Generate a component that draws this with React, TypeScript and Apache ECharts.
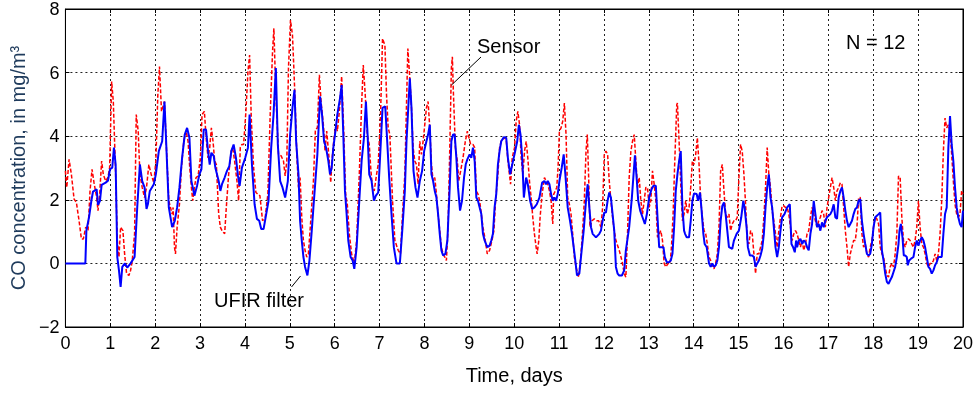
import React, { useEffect, useRef } from "react";
import * as echarts from "echarts";

const xTicks = { min: 0, max: 20, interval: 1 };
const yTicks = { min: -2, max: 8, interval: 2 };

const sensor: [number, number][] = [
  [0,2.91],[0.03,2.39],[0.081,3.27],[0.133,2.8],[0.193,2.02],[0.244,1.92],[0.304,1.34],[0.356,0.77],[0.4,0.77],[0.452,1.14],[0.504,1.03],[0.548,2.28],[0.593,2.96],[0.637,2.54],[0.696,2.07],[0.726,1.66],[0.763,2.18],[0.807,3.22],[0.844,2.8],[0.896,2.59],[0.948,2.7],[0.985,3.01],[1.03,5.72],[1.067,5.09],[1.119,2.8],[1.156,0.72],[1.193,0.2],[1.23,1.14],[1.281,1.03],[1.319,0.3],[1.363,-0.32],[1.415,-0.38],[1.452,-0.22],[1.489,0.09],[1.541,0.93],[1.578,4.68],[1.622,4.16],[1.659,2.8],[1.711,2.39],[1.763,2.07],[1.807,2.39],[1.859,3.11],[1.911,2.8],[1.97,2.54],[2.015,3.22],[2.059,5.3],[2.096,6.19],[2.141,4.78],[2.207,5.09],[2.244,3.84],[2.304,1.97],
  [2.378,1.55],[2.4,1.76],[2.43,0.51],[2.452,0.3],[2.489,1.14],[2.541,1.86],[2.585,3.01],[2.637,3.84],[2.689,4.16],[2.733,3.84],[2.77,3.01],[2.807,2.39],[2.837,1.97],[2.874,2.39],[2.911,2.7],[2.956,2.75],[3.007,3.32],[3.044,4.68],[3.096,4.78],[3.141,3.84],[3.178,3.32],[3.215,3.64],[3.252,4.26],[3.289,3.84],[3.326,3.22],[3.363,3.11],[3.415,1.55],[3.452,1.14],[3.489,1.03],[3.548,0.93],[3.585,1.76],[3.637,2.8],[3.696,3.53],[3.726,3.64],[3.77,3.22],[3.822,2.59],[3.859,1.97],[3.896,3.64],[3.933,3.74],[3.97,3.74],[4.022,4.78],[4.067,6.03],[4.104,6.55],[4.141,4.57],[4.193,3.01],[4.244,2.23],[4.289,2.18],[4.333,2.13],[4.393,1.34],[4.452,1.45],[4.511,2.18],[4.563,4.68],[4.615,6.66],[4.645,7.39],[4.689,5.3],[4.748,3.43],[4.807,3.38],[4.859,3.22],[4.896,2.75],[4.933,3.22],[4.97,6.14],[5.015,7.65],[5.059,7.18],
  [5.081,6.45],[5.119,5.09],[5.155,3.43],[5.193,2.39],[5.229,2.7],[5.266,1.45],[5.303,0.72],[5.34,0.41],[5.377,0.2],[5.414,0.3],[5.466,1.34],[5.526,2.59],[5.57,4.21],[5.614,4.26],[5.659,5.93],[5.696,5.09],[5.748,4.36],[5.785,3.53],[5.822,4.16],[5.874,3.32],[5.911,2.54],[5.948,3.38],[5.985,3.95],[6.03,4.36],[6.059,4.16],[6.104,4.78],[6.155,5.88],[6.192,4.57],[6.244,2.18],[6.281,1.86],[6.326,0.93],[6.377,0.3],[6.437,0],[6.489,0.72],[6.548,2.8],[6.6,4.99],[6.637,6.24],[6.681,5.3],[6.726,4.05],[6.77,3.74],[6.807,2.91],[6.844,2.39],[6.881,2.28],[6.933,2.8],[6.97,3.11],[7.022,4.68],[7.066,7.07],[7.119,6.86],[7.155,5.3],[7.192,4.26],[7.229,4.05],[7.289,1.97],[7.341,0.72],[7.415,0.41],[7.466,0.3],[7.511,1.55],[7.563,2.8],[7.63,6.76],
  [7.674,5.82],[7.711,4.89],[7.748,3.64],[7.785,3.22],[7.822,3.11],[7.859,2.49],[7.896,3.84],[7.933,3.43],[7.97,3.84],[8.007,4.36],[8.044,4.89],[8.081,5.09],[8.119,4.26],[8.156,3.11],[8.193,2.59],[8.23,2.7],[8.267,2.18],[8.304,1.55],[8.341,1.03],[8.378,0.51],[8.415,0.3],[8.452,0.2],[8.489,0.09],[8.526,1.14],[8.563,3.53],[8.6,6.14],[8.622,6.5],[8.644,5.41],[8.689,3.64],[8.733,3.22],[8.763,2.59],[8.807,2.91],[8.859,3.32],[8.911,3.84],[8.956,4.16],[8.993,3.95],[9.03,3.74],[9.081,3.74],[9.119,3.64],[9.156,2.28],[9.193,2.18],[9.23,1.97],[9.304,1.14],[9.356,0.72],[9.4,0.3],[9.452,0.41],[9.504,0.72],[9.548,1.03],[9.585,1.97],[9.637,2.8],[9.674,3.64],[9.711,3.84],[9.77,3.95],[9.822,3.9],[9.859,3.22],[9.919,2.49],[9.956,3.32],[10.007,3.64],[10.044,4.47],[10.081,4.78],[10.119,4.36],[10.156,3.32],[10.193,2.8],[10.23,3.53],[10.267,3.84],
  [10.303,3.32],[10.34,2.59],[10.377,2.07],[10.414,1.45],[10.451,0.93],[10.488,0.51],[10.511,0.3],[10.548,0.72],[10.577,1.45],[10.622,2.18],[10.674,2.7],[10.711,2.59],[10.748,2.49],[10.785,2.28],[10.822,1.97],[10.859,1.24],[10.881,2.18],[10.918,2.28],[10.948,2.39],[10.977,3.01],[11.007,4.16],[11.044,4.26],[11.081,4.47],[11.118,5.04],[11.155,4.05],[11.192,2.07],[11.229,1.86],[11.266,1.55],[11.303,0.93],[11.34,0.2],[11.377,-0.11],[11.437,-0.43],[11.488,0.3],[11.525,1.03],[11.562,1.97],[11.6,3.53],[11.629,4.05],[11.659,2.7],[11.688,1.14],[11.733,1.34],[11.785,1.4],[11.837,1.34],[11.881,1.34],[11.933,1.14],[11.97,1.76],[12.007,3.43],[12.044,3.53],[12.081,3.43],[12.118,2.59],[12.155,1.97],[12.192,1.45],[12.229,1.03],[12.266,0.72],[12.34,0.41],[12.4,0.09],[12.451,-0.32],[12.488,-0.43],[12.525,0.93],[12.562,2.7],[12.6,3.53],[12.636,3.84],[12.674,4.05],[12.711,3.22],[12.748,2.39],[12.785,2.7],
  [12.822,1.97],[12.859,1.55],[12.896,1.97],[12.933,2.39],[12.97,2.39],[13.007,1.76],[13.044,1.97],[13.081,2.91],[13.119,2.49],[13.156,1.97],[13.193,0.82],[13.23,0.93],[13.267,1.03],[13.304,0.72],[13.341,0],[13.378,-0.11],[13.43,0],[13.474,0],[13.504,0.51],[13.541,1.55],[13.578,3.22],[13.622,4.99],[13.637,5.04],[13.674,3.84],[13.711,2.49],[13.748,1.34],[13.785,1.55],[13.822,1.97],[13.859,1.55],[13.896,1.76],[13.933,2.39],[13.97,3.22],[14.007,3.11],[14.044,3.43],[14.081,3.95],[14.119,3.11],[14.156,1.97],[14.193,1.45],[14.23,1.03],[14.267,0.93],[14.304,0.61],[14.341,0.2],[14.378,0.09],[14.415,-0.11],[14.452,-0.17],[14.489,0],[14.526,0.3],[14.563,1.14],[14.6,2.91],[14.637,3.11],[14.674,2.28],[14.711,1.55],[14.748,1.45],[14.785,1.55],[14.822,1.03],[14.859,1.24],[14.896,1.34],[14.933,1.34],[14.97,1.45],[15.007,2.7],[15.044,3.74],[15.081,3.53],[15.119,2.8],[15.156,1.86],[15.193,0.72],[15.23,0.61],[15.267,1.03],[15.304,0.93],
  [15.341,0.3],[15.378,-0.32],[15.415,0.3],[15.452,0.3],[15.489,0.51],[15.526,0.72],[15.563,1.45],[15.6,2.39],[15.637,3.64],[15.674,2.8],[15.711,2.39],[15.748,1.66],[15.785,1.34],[15.822,0.93],[15.859,0.51],[15.896,1.03],[15.933,1.45],[15.97,1.81],[16.007,1.81],[16.045,1.76],[16.082,1.76],[16.119,1.55],[16.156,1.14],[16.193,0.72],[16.23,0.93],[16.267,1.03],[16.304,0.93],[16.341,0.72],[16.378,0.51],[16.415,0.72],[16.452,0.41],[16.489,0.61],[16.526,0.93],[16.563,1.03],[16.6,1.45],[16.637,1.76],[16.674,1.55],[16.711,1.34],[16.748,1.14],[16.785,1.34],[16.822,1.45],[16.859,1.66],[16.896,1.55],[16.933,1.14],[16.97,1.76],[17.007,2.07],[17.045,2.39],[17.082,2.7],[17.119,2.39],[17.156,1.97],[17.193,2.28],[17.23,2.39],[17.267,2.54],[17.304,2.49],[17.341,1.76],[17.378,1.03],[17.415,0.51],[17.452,-0.11],[17.489,0.3],[17.526,0.51],[17.563,0.72],[17.6,0.72],[17.637,1.14],[17.674,2.07],[17.711,2.07],
  [17.748,0.93],[17.785,0.51],[17.822,0.61],[17.859,0.3],[17.896,0.2],[17.933,0.51],[17.97,0.72],[18.007,1.14],[18.044,1.45],[18.081,1.4],[18.119,1.24],[18.156,0.51],[18.193,0.3],[18.23,0.2],[18.267,-0.11],[18.304,-0.38],[18.341,-0.43],[18.378,-0.11],[18.415,0],[18.452,-0.11],[18.489,0.3],[18.526,0.93],[18.563,2.75],[18.6,2.7],[18.637,1.45],[18.674,0.72],[18.711,0.51],[18.748,0.72],[18.785,0.77],[18.822,0.72],[18.859,0.61],[18.896,0.51],[18.933,0.72],[18.97,1.14],[19.007,1.97],[19.044,1.14],[19.082,0.61],[19.119,0.51],[19.156,0.3],[19.193,0],[19.23,-0.11],[19.267,0],[19.304,0],[19.341,0.09],[19.378,0.3],[19.415,0.09],[19.452,0.3],[19.489,0.93],[19.526,1.97],[19.563,3.53],[19.6,4.57],[19.637,4.26],[19.674,4.36],[19.711,4.16],[19.748,3.43],[19.785,2.59],[19.822,1.86],[19.859,1.55],[19.896,1.45],[19.933,1.55],[19.97,2.28],[20,2.18]
];

const ufir: [number, number][] = [
  [0,0],[0.444,0],[0.467,1.03],[0.526,1.45],[0.578,1.97],[0.615,2.26],[0.696,2.33],[0.726,1.84],[0.77,1.97],[0.807,2.47],[0.896,2.54],[0.948,2.6],[0.993,2.96],[1.044,3.01],[1.081,3.64],[1.119,3.11],[1.156,0.2],[1.193,-0.22],[1.23,-0.74],[1.267,-0.11],[1.326,0],[1.378,-0.13],[1.452,0],[1.541,0.2],[1.6,1.76],[1.659,3.11],[1.711,2.59],[1.763,2.39],[1.807,1.71],[1.837,1.86],[1.881,2.28],[1.97,2.49],[2.015,2.8],[2.081,3.53],[2.156,3.84],[2.207,5.09],[2.244,3.84],[2.304,1.76],
  [2.378,1.14],[2.437,1.34],[2.489,1.76],[2.541,2.39],[2.6,3.32],[2.659,4.05],[2.711,4.26],[2.763,3.95],[2.807,2.59],[2.837,2.39],[2.874,2.13],[2.933,2.44],[2.985,2.8],[3.03,2.96],[3.082,4.21],[3.133,4.21],[3.178,3.53],[3.215,3.11],[3.252,3.48],[3.304,3.38],[3.341,3.01],[3.415,2.59],[3.452,2.28],[3.489,2.49],[3.548,2.7],[3.6,2.91],[3.652,3.06],[3.696,3.53],[3.748,3.74],[3.8,3.32],[3.845,2.75],[3.882,2.44],[3.933,3.01],[4.007,3.32],[4.067,3.64],[4.104,4.68],[4.156,3.11],[4.215,1.86],[4.267,1.4],[4.319,1.34],[4.363,1.08],[4.415,1.08],[4.474,1.55],[4.526,1.97],[4.585,3.64],[4.637,4.68],[4.689,6.14],[4.733,3.74],[4.785,2.59],[4.837,2.39],[4.896,2.07],[4.956,2.59],[5.007,4.05],[5.059,4.89],[5.104,5.46],
  [5.141,3.84],[5.193,2.8],[5.229,1.34],[5.266,0.72],[5.303,0.2],[5.34,-0.11],[5.392,-0.38],[5.437,0.09],[5.489,1.03],[5.526,1.76],[5.57,2.59],[5.614,3.43],[5.674,5.25],[5.718,4.68],[5.763,3.84],[5.807,3.64],[5.859,3.22],[5.896,2.8],[5.933,3.01],[5.97,3.64],[6.007,4.05],[6.059,4.68],[6.119,5.2],[6.155,5.61],[6.192,4.05],[6.229,2.28],[6.266,1.55],[6.303,0.72],[6.355,0.2],[6.4,0.09],[6.437,-0.17],[6.489,0.51],[6.548,1.97],[6.6,3.22],[6.652,3.95],[6.696,5.09],[6.733,4.05],[6.77,2.8],[6.822,2.59],[6.874,1.97],[6.918,2.13],[6.97,2.23],[7.007,3.22],[7.066,4.89],[7.126,4.94],[7.17,3.84],[7.214,2.7],[7.266,1.55],[7.318,0.51],[7.377,0],[7.452,0],[7.511,1.14],[7.563,2.28],[7.6,3.84],[7.674,5.82],[7.711,4.89],
  [7.756,2.91],[7.8,2.39],[7.845,2.07],[7.896,2.59],[7.948,2.91],[7.993,3.53],[8.044,3.84],[8.081,4.05],[8.119,4.36],[8.156,2.8],[8.193,2.59],[8.23,2.28],[8.267,2.07],[8.304,1.55],[8.341,0.93],[8.378,0.41],[8.415,0.25],[8.467,0.3],[8.511,0.72],[8.563,2.39],[8.6,3.84],[8.637,4.05],[8.674,4.05],[8.711,3.32],[8.748,2.39],[8.793,1.66],[8.837,1.97],[8.882,2.7],[8.919,3.11],[8.956,3.27],[9.007,3.43],[9.044,3.32],[9.081,3.64],[9.119,3.22],[9.156,2.07],[9.193,1.97],[9.23,1.76],[9.267,1.55],[9.304,0.93],[9.341,0.72],[9.4,0.51],[9.452,0.56],[9.489,0.72],[9.526,0.93],[9.563,1.76],[9.6,2.18],[9.637,3.11],[9.674,3.53],[9.711,3.84],[9.77,3.97],[9.822,3.95],[9.859,3.32],[9.911,2.8],[9.956,3.11],[10.007,3.43],[10.067,3.84],[10.104,4.36],[10.141,4.05],[10.178,3.32],[10.215,2.07],
  [10.266,2.7],[10.303,2.49],[10.355,1.97],[10.4,1.71],[10.451,1.76],[10.503,1.86],[10.562,2.07],[10.622,2.54],[10.674,2.59],[10.711,2.49],[10.748,2.59],[10.785,2.49],[10.822,2.18],[10.859,1.97],[10.896,2.07],[10.933,1.97],[10.97,2.18],[11.007,2.59],[11.059,3.01],[11.103,3.43],[11.14,2.8],[11.192,1.76],[11.244,1.34],[11.288,0.93],[11.325,0.51],[11.362,0.09],[11.399,-0.38],[11.451,-0.32],[11.503,0.41],[11.548,1.03],[11.6,1.97],[11.637,2.49],[11.674,1.76],[11.711,1.14],[11.748,0.93],[11.822,0.82],[11.896,0.93],[11.933,1.03],[11.97,1.34],[12.007,1.6],[12.044,1.6],[12.081,1.97],[12.118,2.23],[12.155,2.07],[12.192,1.55],[12.229,1.03],[12.266,-0.11],[12.303,-0.32],[12.34,-0.38],[12.4,-0.38],[12.451,-0.22],[12.488,0.41],[12.562,1.14],[12.622,2.07],[12.69,3.4],
  [12.733,2.59],[12.763,1.97],[12.807,1.66],[12.859,1.45],[12.911,1.24],[12.956,1.55],[13.007,2.07],[13.059,2.33],[13.104,2.44],[13.156,2.44],[13.193,1.45],[13.23,0.51],[13.281,0.51],[13.326,0.51],[13.356,0.2],[13.4,0.04],[13.452,0.04],[13.489,0.09],[13.526,0.3],[13.563,1.14],[13.6,2.28],[13.637,2.8],[13.674,3.22],[13.711,3.53],[13.748,1.76],[13.785,1.03],[13.807,0.93],[13.844,0.82],[13.896,0.82],[13.933,1.34],[13.97,1.97],[14.007,2.2],[14.067,2.18],[14.096,1.97],[14.141,2.23],[14.17,1.76],[14.215,0.93],[14.244,0.61],[14.289,0.51],[14.341,0],[14.378,-0.11],[14.415,0],[14.452,-0.11],[14.489,-0.06],[14.526,0.09],[14.563,0.51],[14.6,1.34],[14.637,1.81],[14.674,1.92],[14.711,1.55],[14.748,1.03],[14.785,0.51],[14.859,0.46],[14.896,0.72],[14.956,0.93],[15.007,1.03],[15.059,1.45],[15.104,1.97],[15.133,1.76],[15.178,1.14],[15.207,0.51],[15.252,0.25],[15.304,0.25],[15.341,0.2],
  [15.378,-0.11],[15.415,0],[15.452,0.09],[15.489,0.25],[15.526,0.46],[15.563,0.93],[15.6,1.76],[15.637,2.39],[15.674,2.8],[15.711,2.07],[15.748,1.76],[15.785,1.14],[15.822,0.51],[15.859,0.2],[15.896,0.51],[15.933,1.03],[15.97,1.45],[16.022,1.55],[16.082,1.76],[16.141,1.86],[16.178,0.61],[16.215,0.51],[16.252,0.35],[16.282,0.72],[16.304,0.51],[16.341,0.72],[16.378,0.77],[16.415,0.61],[16.452,0.72],[16.489,0.67],[16.526,0.51],[16.563,0.41],[16.6,0.93],[16.637,1.24],[16.674,1.97],[16.711,1.55],[16.748,1.14],[16.785,1.24],[16.822,1.03],[16.859,1.29],[16.896,1.14],[16.933,1.34],[16.97,1.45],[17.045,1.55],[17.082,1.66],[17.119,1.86],[17.156,1.45],[17.193,1.4],[17.23,2.07],[17.267,2.28],[17.304,2.39],[17.341,2.07],[17.378,1.66],[17.415,1.34],[17.452,1.14],[17.489,1.24],[17.526,1.34],[17.563,1.55],[17.6,1.71],[17.637,1.76],[17.674,1.97],[17.711,2.02],
  [17.748,1.34],[17.785,0.93],[17.822,0.61],[17.859,0.3],[17.896,0.25],[17.933,0.3],[17.97,0.61],[18.007,1.14],[18.044,1.45],[18.081,1.5],[18.119,1.55],[18.156,1.6],[18.193,0.41],[18.23,0.09],[18.267,-0.32],[18.304,-0.58],[18.341,-0.64],[18.378,-0.53],[18.415,-0.43],[18.452,-0.27],[18.489,-0.11],[18.526,0.2],[18.563,0.61],[18.585,1.03],[18.615,1.24],[18.652,0.82],[18.681,0.25],[18.711,0.25],[18.748,0.2],[18.77,-0.06],[18.8,0.09],[18.844,0.15],[18.896,0.2],[18.933,0.51],[18.97,0.72],[19.007,0.56],[19.044,0.72],[19.082,0.82],[19.119,0.72],[19.156,0.51],[19.193,0.2],[19.23,-0.11],[19.267,-0.17],[19.304,-0.32],[19.341,-0.22],[19.378,-0.06],[19.415,0.04],[19.452,0.2],[19.526,0.2],[19.563,0.93],[19.6,1.55],[19.637,1.76],[19.674,3.64],[19.711,4.63],[19.748,3.74],[19.785,3.22],[19.822,2.39],[19.859,1.76],[19.896,1.45],[19.933,1.24],[19.97,1.14],[20,1.66]
];

const FONT = "'Liberation Sans', Arial, Helvetica, sans-serif";

export default function App() {
  const ref = useRef<HTMLDivElement>(null);
  useEffect(() => {
    if (!ref.current) return;
    const chart = echarts.init(ref.current, undefined, { renderer: "svg" });
    const frameAxis = {
      axisLine: { show: true, onZero: false, lineStyle: { color: "#000", width: 1 } },
      axisTick: { show: true, inside: true, length: 4, lineStyle: { color: "#000" } },
      axisLabel: { show: false },
      splitLine: { show: false },
    };
    const grid = { show: true, lineStyle: { color: "#222", width: 1, type: [2, 3] } };
    chart.setOption({
      animation: false,
      grid: { left: 63, right: 13, top: 7, bottom: 69, show: true, borderColor: "#000", borderWidth: 1 },
      xAxis: [
        {
          type: "value",
          min: xTicks.min,
          max: xTicks.max,
          interval: xTicks.interval,
          position: "bottom",
          axisLine: { show: true, onZero: false, lineStyle: { color: "#000", width: 1 } },
          axisTick: { show: true, inside: true, length: 4, lineStyle: { color: "#000" } },
          axisLabel: { color: "#000", fontSize: 18, fontFamily: FONT, margin: 7 },
          splitLine: grid,
          name: "Time, days",
          nameLocation: "middle",
          nameGap: 38,
          nameTextStyle: { color: "#000", fontSize: 20, fontFamily: FONT },
        },
        { type: "value", min: xTicks.min, max: xTicks.max, interval: xTicks.interval, position: "top", ...frameAxis },
      ],
      yAxis: [
        {
          type: "value",
          min: yTicks.min,
          max: yTicks.max,
          interval: yTicks.interval,
          position: "left",
          axisLine: { show: true, onZero: false, lineStyle: { color: "#000", width: 1 } },
          axisTick: { show: true, inside: true, length: 4, lineStyle: { color: "#000" } },
          axisLabel: {
            color: "#000",
            fontSize: 18,
            fontFamily: FONT,
            margin: 6,
            formatter: (v: number) => (v < 0 ? "\u2212" + Math.abs(v) : String(v)),
          },
          splitLine: grid,
          name: "CO concentration, in mg/m³",
          nameLocation: "middle",
          nameGap: 32,
          nameTextStyle: { color: "#1f3b5c", fontSize: 20, fontFamily: FONT },
        },
        { type: "value", min: yTicks.min, max: yTicks.max, interval: yTicks.interval, position: "right", ...frameAxis },
      ],
      series: [
        {
          type: "line",
          name: "Sensor",
          data: sensor,
          showSymbol: false,
          symbol: "none",
          lineStyle: { color: "#ff0000", width: 1.5, type: [4, 2] },
          z: 3,
        },
        {
          type: "line",
          name: "UFIR filter",
          data: ufir,
          showSymbol: false,
          symbol: "none",
          lineStyle: { color: "#0000ff", width: 2 },
          z: 4,
        },
      ],
      graphic: [
        { type: "text", left: 477, top: 36, style: { text: "Sensor", font: `20px ${FONT}`, fill: "#000" }, z: 10 },
        { type: "line", shape: { x1: 481, y1: 57, x2: 451.5, y2: 85 }, style: { stroke: "#000", lineWidth: 1 }, z: 10 },
        { type: "text", left: 214, top: 290, style: { text: "UFIR filter", font: `20px ${FONT}`, fill: "#000" }, z: 10 },
        { type: "line", shape: { x1: 291.5, y1: 287, x2: 300.5, y2: 276 }, style: { stroke: "#000", lineWidth: 1 }, z: 10 },
        { type: "text", left: 846, top: 32, style: { text: "N = 12", font: `20px ${FONT}`, fill: "#000" }, z: 10 },
      ],
    });
    return () => chart.dispose();
  }, []);
  return <div ref={ref} style={{ position: "fixed", left: 0, top: 0, width: 976, height: 396 }} />;
}
